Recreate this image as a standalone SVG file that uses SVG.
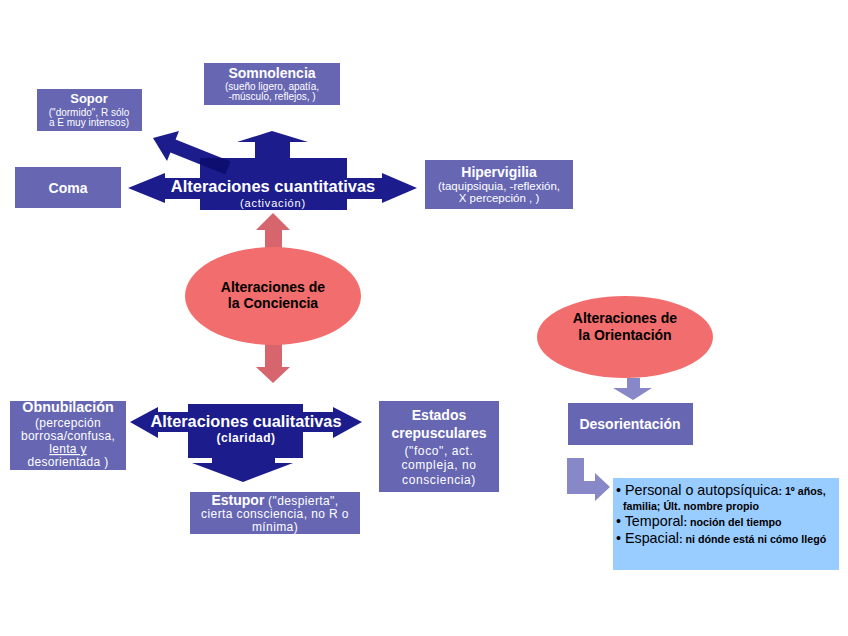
<svg xmlns="http://www.w3.org/2000/svg" width="848" height="636" viewBox="0 0 848 636">
<defs>
<style>
text{font-family:"Liberation Sans",Arial,sans-serif;}
.box{fill:#6666b3;}
.navy{fill:#1c1c8c;}
.ell{fill:#f26d6d;}
.red{fill:#c8323c;fill-opacity:0.75;}
.lav{fill:#8888c8;}
.wt{fill:#fff;font-weight:bold;text-anchor:middle;}
.ws{fill:#fff;text-anchor:middle;}
.bt{fill:#000;font-weight:bold;text-anchor:middle;font-size:14px;}
.lg{font-size:14.3px;font-weight:normal;}
.sm{font-size:10.7px;font-weight:bold;}
</style>
<clipPath id="qclip"><rect x="200" y="158" width="147" height="52"/></clipPath>
</defs>
<rect width="848" height="636" fill="#fff"/>

<g id="connectors">
  <path class="red" d="M265,253 L265,230 L256,230 L273,213 L290,230 L282,230 L282,253 Z"/>
  <path class="red" d="M265,338 L282,338 L282,367 L290,367 L273,383 L256,367 L265,367 Z"/>
  <path class="lav" d="M627,378 L640,378 L640,388 L652,388 L633,400 L613,388 L627,388 Z"/>
  <path class="lav" d="M567,458 L584,458 L584,481 L595,481 L595,473 L610,487 L595,501 L595,494 L567,494 Z"/>
</g>

<g id="coma"><rect class="box" x="15" y="167" width="106" height="41"/><text class="wt" x="68" y="193" font-size="14">Coma</text></g>
<g id="sopor"><rect class="box" x="37" y="89" width="105" height="42"/>
<text class="wt" x="89" y="103" font-size="13">Sopor</text>
<text class="ws" x="89" y="115.5" font-size="10">("dormido", R sólo</text>
<text class="ws" x="89" y="126" font-size="10">a E muy intensos)</text></g>
<g id="somnolencia"><rect class="box" x="204" y="63" width="136" height="42"/>
<text class="wt" x="272" y="78" font-size="14">Somnolencia</text>
<text class="ws" x="272" y="90" font-size="10">(sueño ligero, apatía,</text>
<text class="ws" x="272" y="100" font-size="10">-músculo, reflejos, )</text></g>
<g id="hipervigilia"><rect class="box" x="425" y="160" width="148" height="49"/>
<text class="wt" x="499" y="177" font-size="14">Hipervigilia</text>
<text class="ws" x="499" y="190" font-size="11.5">(taquipsiquia, -reflexión,</text>
<text class="ws" x="499" y="202" font-size="11.5">X percepción , )</text></g>

<g id="cuantitativas">
  <path class="navy" d="M128,188 L165,173 L165,178 L200,178 L200,158 L255,158 L255,142 L237,142 L272,131 L308,142 L290,142 L290,158 L347,158 L347,178 L382,178 L382,173 L417,188 L382,203 L382,199 L347,199 L347,210 L200,210 L200,199 L165,199 L165,203 Z"/>
  <path class="navy" d="M153,138 L179,131 L175.6,139.5 L230.6,161.5 L225.4,174.5 L170.4,152.5 L167,161 Z"/>
  <path fill="#0e0e70" clip-path="url(#qclip)" d="M153,138 L179,131 L175.6,139.5 L230.6,161.5 L225.4,174.5 L170.4,152.5 L167,161 Z"/>
  <text class="wt" x="273" y="192" font-size="16.5">Alteraciones cuantitativas</text>
  <text class="ws" x="273" y="207" font-size="11" letter-spacing="0.8">(activación)</text>
</g>

<g id="conciencia"><ellipse class="ell" cx="273" cy="296" rx="88" ry="49"/>
<text class="bt" x="273" y="292">Alteraciones de</text>
<text class="bt" x="273" y="308">la Conciencia</text></g>

<g id="cualitativas">
  <path class="navy" d="M130,422 L158,407 L158,412 L188,412 L188,404 L303,404 L303,412 L333,412 L333,407 L362,422 L333,438 L333,432 L303,432 L303,458 L275,458 L275,463 L293,463 L243,482 L192,463 L212,463 L212,458 L188,458 L188,432 L158,432 L158,438 Z"/>
  <text class="wt" x="246" y="427" font-size="16.3">Alteraciones cualitativas</text>
  <text class="wt" x="246" y="442" font-size="12" letter-spacing="0.5">(claridad)</text>
</g>

<g id="obnubilacion"><rect class="box" x="10" y="401" width="116" height="69"/>
<text class="wt" x="68" y="412" font-size="14.3">Obnubilación</text>
<text class="ws" x="68" y="427" font-size="12" letter-spacing="0.3">(percepción</text>
<text class="ws" x="68" y="440" font-size="12" letter-spacing="0.3">borrosa/confusa,</text>
<text class="ws" x="68" y="453" font-size="12" letter-spacing="0.3" text-decoration="underline">lenta y</text>
<text class="ws" x="68" y="466" font-size="12" letter-spacing="0.3">desorientada )</text></g>

<g id="estupor"><rect class="box" x="190" y="492" width="170" height="42"/>
<text class="ws" x="275" y="505" font-size="12" letter-spacing="0.4"><tspan font-weight="bold" font-size="14" letter-spacing="0">Estupor</tspan> ("despierta",</text>
<text class="ws" x="275" y="518" font-size="12" letter-spacing="0.4">cierta consciencia, no R o</text>
<text class="ws" x="275" y="531" font-size="12" letter-spacing="0.4">mínima)</text></g>

<g id="crepusculares"><rect class="box" x="379" y="401" width="120" height="91"/>
<text class="wt" x="439" y="420" font-size="14">Estados</text>
<text class="wt" x="439" y="438" font-size="14">crepusculares</text>
<text class="ws" x="439" y="455" font-size="12" letter-spacing="0.6">("foco", act.</text>
<text class="ws" x="439" y="469" font-size="12" letter-spacing="0.6">compleja, no</text>
<text class="ws" x="439" y="484" font-size="12" letter-spacing="0.6">consciencia)</text></g>

<g id="orientacion"><ellipse class="ell" cx="625" cy="337" rx="88" ry="41"/>
<text class="bt" x="625" y="323">Alteraciones de</text>
<text class="bt" x="625" y="340">la Orientación</text></g>

<g id="desorientacion"><rect class="box" x="568" y="403" width="125" height="42"/>
<text class="wt" x="630" y="429" font-size="14">Desorientación</text></g>

<g id="tipos"><rect x="613" y="478" width="226" height="92" fill="#99ccff"/>
<text x="616" y="495" fill="#000"><tspan class="lg">• Personal o autopsíquica</tspan><tspan class="sm">: 1º años,</tspan></text>
<text x="623" y="510" fill="#000" class="sm">familia; Últ. nombre propio</text>
<text x="616" y="526" fill="#000"><tspan class="lg">• Temporal</tspan><tspan class="sm">: noción del tiempo</tspan></text>
<text x="616" y="543" fill="#000"><tspan class="lg">• Espacial</tspan><tspan class="sm">: ni dónde está ni cómo llegó</tspan></text></g>
</svg>
